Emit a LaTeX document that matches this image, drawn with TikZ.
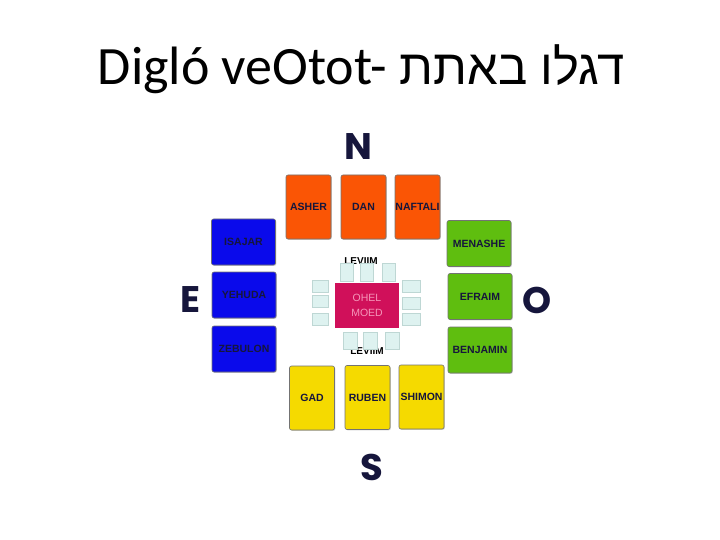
\documentclass[tikz,border=0pt]{standalone}
\usepackage{fontspec}
\setmainfont{Carlito}
\newfontfamily\hebfont[Script=Hebrew]{Liberation Sans}
\newfontfamily\tribefont{Liberation Sans}
\newfontfamily\compassfont{Poppins}
\TeXXeTstate=1
\usetikzlibrary{shadows}

\definecolor{tribeorange}{RGB}{250,85,5}
\definecolor{tribeblue}{RGB}{10,10,235}
\definecolor{tribegreen}{RGB}{95,190,15}
\definecolor{tribeyellow}{RGB}{245,218,0}
\definecolor{ohelred}{RGB}{208,16,90}
\definecolor{ohelpink}{RGB}{245,150,185}
\definecolor{levifill}{RGB}{222,242,240}
\definecolor{leviedge}{RGB}{190,215,212}
\definecolor{navytext}{RGB}{22,22,60}

\tikzset{
  tribe/.style={draw=black!55, line width=0.6pt, rounded corners=2pt, inner sep=0pt,
    font=\tribefont\bfseries\fontsize{10.5}{12}\selectfont, text=navytext,
    drop shadow={shadow xshift=0.8pt, shadow yshift=-0.8pt, opacity=0.35}},
  wide/.style={minimum width=64pt, minimum height=46pt},
  tall/.style={minimum width=45pt, minimum height=64pt},
  levi/.style={draw=leviedge, fill=levifill, line width=0.5pt, inner sep=0pt},
  compass/.style={font=\compassfont\bfseries\fontsize{37}{40}\selectfont, text=navytext},
  levilabel/.style={font=\tribefont\bfseries\fontsize{10}{12}\selectfont, text=black}
}

\begin{document}
\begin{tikzpicture}[x=1pt, y=-1pt]
  \useasboundingbox[fill=white] (0,0) rectangle (720,540);

  % title
  \node[anchor=base, font=\fontsize{54}{60}\selectfont] (title) at (361,85)
    {Digló veOtot- {\hebfont\fontsize{49}{60}\selectfont\beginR דגלו באתת\endR}};

  % compass
  \node[compass] (N) at (358,147) {N};
  \node[compass] (S) at (372,467) {S};
  \node[compass] (E) at (191,300) {E};
  \node[compass] (O) at (537,300) {O};

  % north
  \node[tribe, tall, fill=tribeorange] (asher)   at (308.5,207) {ASHER};
  \node[tribe, tall, fill=tribeorange] (dan)     at (363.5,207) {DAN};
  \node[tribe, tall, fill=tribeorange] (naftali) at (417.5,207) {NAFTALI};

  % east
  \node[tribe, wide, fill=tribeblue] (isajar)  at (243.5,242) {ISAJAR};
  \node[tribe, wide, fill=tribeblue] (yehuda)  at (244,295)   {YEHUDA};
  \node[tribe, wide, fill=tribeblue] (zebulon) at (244,349)   {ZEBULON};

  % west
  \node[tribe, wide, fill=tribegreen] (menashe)  at (479,243.5) {MENASHE};
  \node[tribe, wide, fill=tribegreen] (efraim)   at (480,296.5) {EFRAIM};
  \node[tribe, wide, fill=tribegreen] (benjamin) at (480,350)   {BENJAMIN};

  % south
  \node[tribe, tall, fill=tribeyellow] (gad)    at (312,398)   {GAD};
  \node[tribe, tall, fill=tribeyellow] (ruben)  at (367.5,397.5) {RUBEN};
  \node[tribe, tall, fill=tribeyellow] (shimon) at (421.5,397) {SHIMON};

  % leviim
  \node[levilabel] (levtop) at (361,261) {LEVIIM};
  \node[levilabel] (levbot) at (367,351) {LEVIIM};

  \node[levi, minimum width=13pt, minimum height=18pt] (lt1) at (346.5,272) {};
  \node[levi, minimum width=13pt, minimum height=18pt] (lt2) at (366.5,272) {};
  \node[levi, minimum width=13pt, minimum height=18pt] (lt3) at (388.5,272) {};

  \node[levi, minimum width=14pt, minimum height=17pt] (lb1) at (350,340.5) {};
  \node[levi, minimum width=14pt, minimum height=17pt] (lb2) at (370,340.5) {};
  \node[levi, minimum width=14pt, minimum height=17pt] (lb3) at (392.5,340.5) {};

  \node[levi, minimum width=16pt, minimum height=12pt] (ll1) at (320,286) {};
  \node[levi, minimum width=16pt, minimum height=12pt] (ll2) at (320,301.5) {};
  \node[levi, minimum width=16pt, minimum height=12pt] (ll3) at (320,319.5) {};

  \node[levi, minimum width=18pt, minimum height=12pt] (lr1) at (411,286.5) {};
  \node[levi, minimum width=18pt, minimum height=12pt] (lr2) at (411,303.5) {};
  \node[levi, minimum width=18pt, minimum height=12pt] (lr3) at (411,319.5) {};

  % ohel moed
  \node[fill=ohelred, minimum width=64pt, minimum height=45pt, inner sep=0pt,
    align=center, text=ohelpink, font=\tribefont\fontsize{10.5}{15}\selectfont] (ohel)
    at (367,305.5) {OHEL\\MOED};

\end{tikzpicture}
\end{document}
